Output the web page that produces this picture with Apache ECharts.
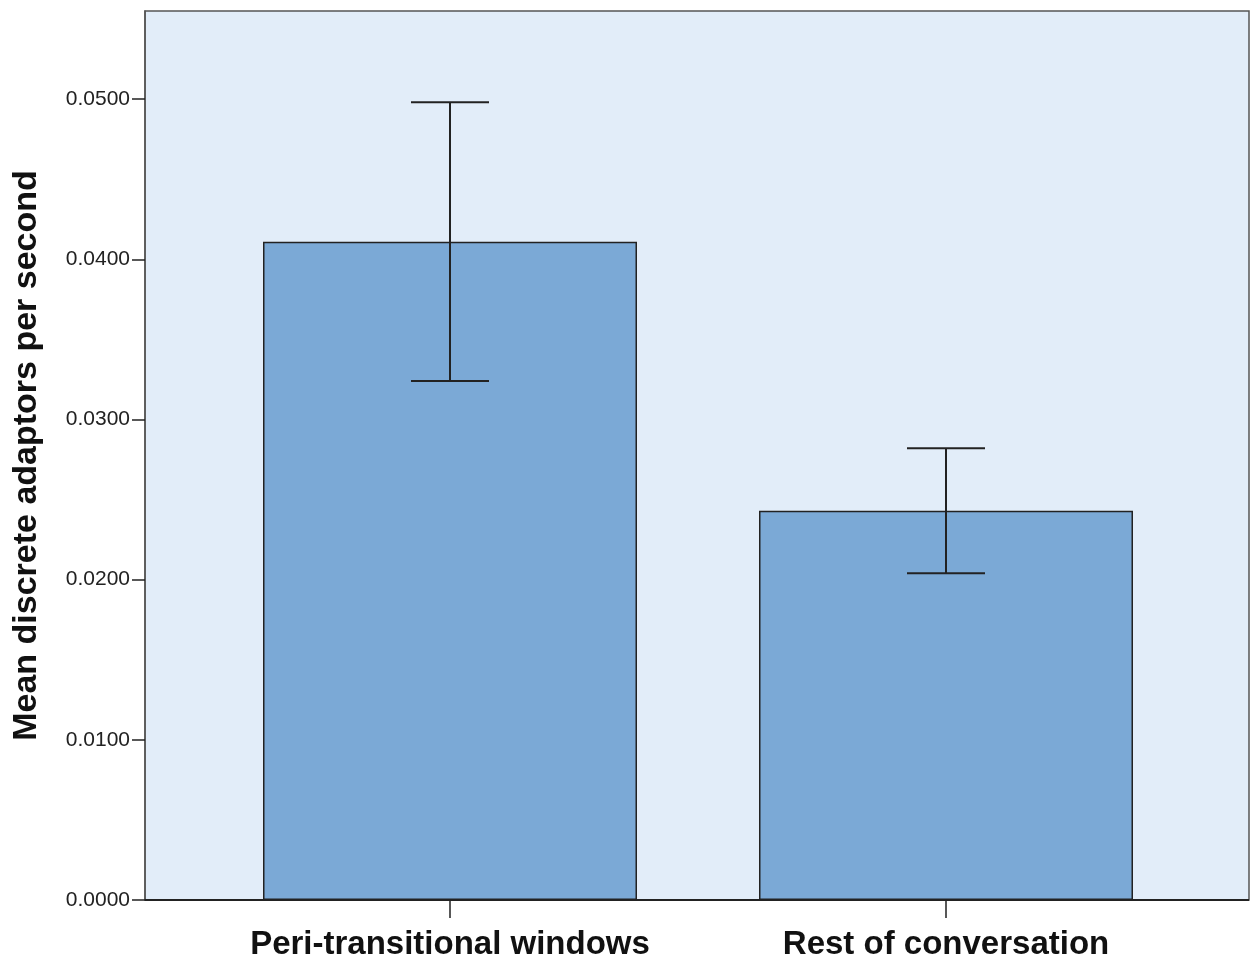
<!DOCTYPE html>
<html>
<head>
<meta charset="utf-8">
<script src="https://cdn.jsdelivr.net/npm/echarts@6/dist/echarts.min.js"></script>
<style>
	html, body { margin: 0; padding: 0; background: #fff; }
	#main { width: 1256px; height: 958px; }
</style>
</head>
<body>
<div id="main"></div>
<script>
// 数据
var categories = ['Peri-transitional windows', 'Rest of conversation'];
var means = [0.0411, 0.0243];
var errLow = [0.0324, 0.0204];
var errHigh = [0.0498, 0.0282];
var yTicks = [0, 0.01, 0.02, 0.03, 0.04, 0.05];

var yMax = 0.0555;
var lineColor = '#222222';
var font = 'Liberation Sans, Arial, sans-serif';

// 误差线数据
var errData = [];
for (var i = 0; i < categories.length; i++) {
	errData.push([i, errLow[i], errHigh[i]]);
}

var chart = echarts.init(document.getElementById('main'));
var option = {
	animation: false,
	grid: [{
		// 背景框
		left: 145, right: 7, top: 11, bottom: 58,
		outerBoundsMode: 'none',
		containLabel: false,
		show: true,
		backgroundColor: '#e2edf9',
		borderColor: '#555555',
		borderWidth: 1.5
	}, {
		left: 202, right: 62, top: 11, bottom: 58,
		outerBoundsMode: 'none',
		containLabel: false
	}],
	xAxis: [{
		gridIndex: 0, type: 'value', min: 0, max: 1, show: false
	}, {
		gridIndex: 1,
		type: 'category',
		data: categories,
		axisLine: { show: false },
		axisTick: { show: true, alignWithLabel: true, length: 18, lineStyle: { color: lineColor, width: 1.5 } },
		axisLabel: { interval: 0, hideOverlap: false, margin: 28, color: '#111', fontSize: 33, fontWeight: 'bold', fontFamily: font }
	}],
	yAxis: [{
		gridIndex: 0,
		type: 'value',
		min: 0, max: yMax, interval: 0.01,
		name: 'Mean discrete adaptors per second',
		nameLocation: 'middle',
		nameGap: 101,
		nameTextStyle: { color: '#111', fontSize: 34, fontWeight: 'bold', fontFamily: font },
		axisLine: { show: true, lineStyle: { color: '#555555', width: 1.5 } },
		axisTick: { show: true, length: 13, lineStyle: { color: lineColor, width: 1.5 } },
		axisLabel: {
			margin: 15, color: '#222', fontSize: 21, fontFamily: font,
			showMaxLabel: false,
			formatter: function(v) {
				if (yTicks.indexOf(Math.round(v * 100) / 100) < 0) return '';
				return v.toFixed(4);
			}
		},
		splitLine: { show: false }
	}, {
		gridIndex: 1, type: 'value', min: 0, max: yMax, show: false
	}],
	series: [{
		type: 'bar',
		xAxisIndex: 1, yAxisIndex: 1,
		data: means,
		barWidth: 374,
		itemStyle: { color: '#7ba9d6', borderColor: lineColor, borderWidth: 1.5 }
	}, {
		// 底部轴线
		type: 'line',
		xAxisIndex: 0, yAxisIndex: 0,
		data: [[0, 0], [1, 0]],
		symbol: 'none',
		lineStyle: { color: lineColor, width: 2 },
		z: 5
	}, {
		// 误差线
		type: 'custom',
		xAxisIndex: 1, yAxisIndex: 1,
		data: errData,
		z: 10,
		renderItem: function(params, api) {
			var x = api.value(0);
			var lo = api.coord([x, api.value(1)]);
			var hi = api.coord([x, api.value(2)]);
			var half = 39;
			var style = { stroke: lineColor, lineWidth: 2 };
			return {
				type: 'group',
				children: [
					{ type: 'line', shape: { x1: lo[0], y1: lo[1], x2: hi[0], y2: hi[1] }, style: style },
					{ type: 'line', shape: { x1: hi[0] - half, y1: hi[1], x2: hi[0] + half, y2: hi[1] }, style: style },
					{ type: 'line', shape: { x1: lo[0] - half, y1: lo[1], x2: lo[0] + half, y2: lo[1] }, style: style }
				]
			};
		}
	}]
};
chart.setOption(option);
</script>
</body>
</html>
